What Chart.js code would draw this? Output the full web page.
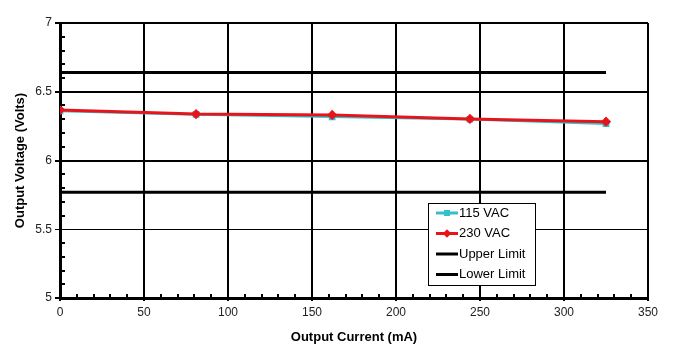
<!DOCTYPE html>
<html>
<head>
  <title>Output Voltage vs Output Current</title>
  <style>
    body { margin: 0; background: #fff; }
    #wrap { width: 676px; height: 361px; }
  </style>
  <script src="https://cdn.jsdelivr.net/npm/chart.js"></script>
</head>
<body>
  <div id="wrap"><canvas id="chart" width="676" height="361"></canvas></div>
  <script>
    // values
    const currentMA = [0, 81, 162, 244, 325];
    const vac115 = [6.36, 6.335, 6.318, 6.30, 6.268];
    const vac230 = [6.368, 6.338, 6.331, 6.302, 6.282];
    const limitX = [0, 325];
    const upperLimit = [6.64, 6.64];
    const lowerLimit = [5.77, 5.77];
    const seriesNames = ['115 VAC', '230 VAC', 'Upper Limit', 'Lower Limit'];

    const pts = (xs, ys) => xs.map((x, i) => ({x: x, y: ys[i]}));
    const FONT = 'Liberation Sans, Arial, sans-serif';

    // minor tick marks drawn inside the plot, like the original
    const minorTicks = {
      id: 'minorTicks',
      afterDraw(chart) {
        const c = chart.ctx, xs = chart.scales.x, ys = chart.scales.y;
        c.save();
        c.strokeStyle = '#000';
        c.lineWidth = 2;
        c.beginPath();
        for (let v = 10; v < 350; v += 10) {
          if (v % 50 === 0) continue;
          const px = Math.round(xs.getPixelForValue(v));
          c.moveTo(px, ys.bottom);
          c.lineTo(px, ys.bottom - 4);
        }
        for (let i = 1; i < 20; i++) {
          if (i % 5 === 0) continue;
          const py = Math.round(ys.getPixelForValue(5 + i / 10));
          c.moveTo(xs.left, py);
          c.lineTo(xs.left + 5, py);
        }
        c.stroke();
        c.restore();
      }
    };

    // boxed legend inside the plot area
    const boxLegend = {
      id: 'boxLegend',
      afterDraw(chart) {
        const c = chart.ctx;
        const x0 = 428, y0 = 203, w = 107, h = 82;
        c.save();
        c.fillStyle = '#fff';
        c.fillRect(x0, y0, w, h);
        c.strokeStyle = '#000';
        c.lineWidth = 1;
        c.strokeRect(x0 + 0.5, y0 + 0.5, w, h);
        c.font = '13px ' + FONT;
        c.textBaseline = 'middle';
        chart.data.datasets.forEach((ds, i) => {
          const y = y0 + 10 + i * 20.5;
          c.strokeStyle = ds.borderColor;
          c.lineWidth = 3;
          c.beginPath();
          c.moveTo(x0 + 8, y);
          c.lineTo(x0 + 30, y);
          c.stroke();
          if (ds.pointRadius > 0) {
            c.fillStyle = ds.pointBackgroundColor;
            c.save();
            c.translate(x0 + 19, y);
            if (ds.pointStyle === 'rectRot') c.rotate(Math.PI / 4);
            c.fillRect(-3, -3, 6, 6);
            c.restore();
          }
          c.fillStyle = '#000';
          c.fillText(ds.label, x0 + 31, y);
        });
        c.restore();
      }
    };

    new Chart(document.getElementById('chart'), {
      type: 'line',
      data: {
        datasets: [
          {
            label: seriesNames[0],
            data: pts(currentMA, vac115),
            borderColor: '#33c0c8',
            backgroundColor: '#33c0c8',
            pointBackgroundColor: '#33c0c8',
            pointBorderColor: '#33c0c8',
            pointStyle: 'rect',
            pointRadius: 3,
            borderWidth: 2.5,
            order: 1
          },
          {
            label: seriesNames[1],
            data: pts(currentMA, vac230),
            borderColor: '#e8141c',
            backgroundColor: '#e8141c',
            pointBackgroundColor: '#e8141c',
            pointBorderColor: '#e8141c',
            pointStyle: 'rectRot',
            pointRadius: 3,
            borderWidth: 3,
            order: 0
          },
          {
            label: seriesNames[2],
            data: pts(limitX, upperLimit),
            borderColor: '#000',
            pointRadius: 0,
            borderWidth: 3,
            order: 2
          },
          {
            label: seriesNames[3],
            data: pts(limitX, lowerLimit),
            borderColor: '#000',
            pointRadius: 0,
            borderWidth: 3,
            order: 3
          }
        ]
      },
      options: {
        responsive: false,
        animation: false,
        layout: { padding: { top: 23, right: 28, left: 9, bottom: 12 } },
        plugins: {
          legend: { display: false },
          tooltip: { enabled: false }
        },
        scales: {
          x: {
            type: 'linear',
            min: 0, max: 350,
            afterFit: s => { s.height = 51; },
            ticks: { stepSize: 50, color: '#222', font: { family: FONT, size: 12 }, padding: 4 },
            grid: { color: '#000', lineWidth: 2, tickLength: 3 },
            border: { color: '#000', width: 3 },
            title: { display: true, text: 'Output Current (mA)', color: '#000',
                     font: { family: FONT, size: 13, weight: 'bold' }, padding: { top: 4 } }
          },
          y: {
            min: 5, max: 7,
            afterFit: s => { s.width = 51; },
            ticks: { stepSize: 0.5, color: '#222', font: { family: FONT, size: 12 }, padding: 3,
                     callback: v => String(v) },
            grid: { color: '#000', lineWidth: ctx => ctx.tick && ctx.tick.value === 5.5 ? 1 : 2, tickLength: 5 },
            border: { color: '#000', width: 3 },
            title: { display: true, text: 'Output Voltage (Volts)', color: '#000',
                     font: { family: FONT, size: 13, weight: 'bold' }, padding: { bottom: 4 } }
          }
        }
      },
      plugins: [minorTicks, boxLegend]
    });
  </script>
</body>
</html>
